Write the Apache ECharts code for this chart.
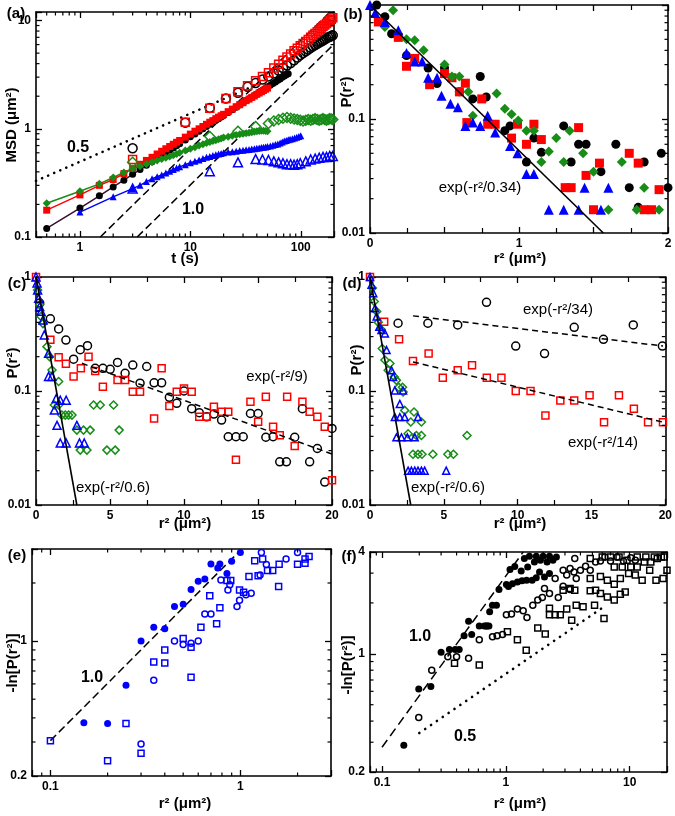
<!DOCTYPE html>
<html><head><meta charset="utf-8">
<script src="https://cdn.jsdelivr.net/npm/echarts@6/dist/echarts.min.js"></script>
<style>html,body{margin:0;padding:0;background:#fff}#c{width:675px;height:816px}</style>
</head><body><div id="c"></div>
<script>
// ================= DATA =================
// ---- Panel (a): MSD (um^2) vs t (s) ----
const aBlackLineT = [0.5,1,1.5,2,2.5,3,3.5,4,4.5,5,5.5,6,6.5,7,7.5,8,9,10,11,12,13,14,15,16,17,18,19,20,22,24,26,28,30,32,34,36,38,40,42,44,46,48,50,53,56,59,62,65,68,71,74,77];
const aBlackLineM = [0.12,0.185,0.24,0.29,0.335,0.38,0.42,0.46,0.497,0.533,0.568,0.601,0.634,0.666,0.697,0.727,0.786,0.842,0.897,0.95,1.0,1.05,1.1,1.15,1.196,1.24,1.287,1.33,1.417,1.5,1.58,1.66,1.74,1.82,1.89,1.96,2.03,2.1,2.17,2.24,2.31,2.37,2.44,2.53,2.62,2.71,2.81,2.89,2.99,3.07,3.16,3.22];
const aRedLineT = [0.5,1,1.5,2,2.5,3,3.5,4,4.5,5,5.5,6,6.5,7,7.5,8,9,10,11,12,13,14,15,16,17,18,19,20,22,24,26,28,30,32,34,36,38,40,42,44,46,48,50];
const aRedLineM = [0.177,0.245,0.3,0.34,0.385,0.43,0.47,0.51,0.545,0.585,0.62,0.654,0.686,0.719,0.75,0.78,0.837,0.893,0.95,1.0,1.05,1.1,1.15,1.19,1.24,1.28,1.32,1.36,1.44,1.52,1.6,1.67,1.74,1.82,1.88,1.95,2.01,2.08,2.14,2.2,2.26,2.32,2.38];
const aGreenLineT = [0.5,1,1.5,2,2.5,3,3.5,4,4.5,5,5.5,6,6.5,7,7.5,8,9,10,11,12,13,14,15,16,17,18,19,20,22,24,26,28,30,32,34,36,38,40,42,44,46,48,50];
const aGreenLineM = [0.205,0.265,0.31,0.355,0.395,0.43,0.45,0.47,0.49,0.51,0.525,0.54,0.555,0.57,0.585,0.6,0.63,0.655,0.675,0.7,0.72,0.74,0.755,0.77,0.785,0.8,0.815,0.83,0.845,0.86,0.875,0.89,0.9,0.91,0.92,0.93,0.94,0.95,0.955,0.96,0.96,0.955,0.95];
const aBlueLineT = [1,2,3,3.5,4,4.5,5,5.5,6,6.5,7,7.5,8,9,10,11,12,13,14,15,16,17,18,19,20,22,24,26,28,30,32,34,36,38,40,42,44,46,48,50,53,56,59,62,65,68,71,74,77,80,84,88,92,96,100];
const aBlueLineM = [0.17,0.235,0.28,0.3,0.325,0.345,0.36,0.375,0.39,0.405,0.42,0.435,0.445,0.465,0.485,0.5,0.515,0.53,0.545,0.555,0.565,0.575,0.585,0.59,0.6,0.61,0.615,0.62,0.63,0.635,0.64,0.645,0.65,0.655,0.66,0.665,0.67,0.675,0.68,0.685,0.695,0.705,0.715,0.725,0.74,0.755,0.77,0.78,0.79,0.8,0.81,0.82,0.835,0.85,0.86];
const aOpenT = [3,9,15,21,27,33,39,45,51,57,63,69,75,81,87,93,99,105,111,117,123,129,135,141,147,153,159,165,171,177,183,189,195];
const aBlackOpenM = [0.66,1.14,1.56,1.9,2.15,2.45,2.65,2.85,3.05,3.25,3.45,3.65,3.85,4.05,4.3,4.55,4.8,5.0,5.2,5.4,5.6,5.8,5.95,6.1,6.25,6.4,6.55,6.7,6.85,7.0,7.1,7.2,7.3];
const aRedOpenM = [0.52,1.15,1.55,1.9,2.2,2.5,2.78,3.05,3.3,3.65,3.95,4.3,4.6,4.9,5.25,5.55,5.85,6.15,6.4,6.7,7.0,7.3,7.6,7.9,8.2,8.5,8.8,9.1,9.4,9.7,10.0,10.3,10.6];
const aGreenOpenT = [3,15,27,39,51,57,63,69,75,81,87,93,99,105,111,117,123,129,135,141,147,153,159,165,171,177,183,189,195];
const aGreenOpenM = [0.49,0.85,0.95,1.05,1.12,1.18,1.22,1.25,1.27,1.25,1.23,1.22,1.2,1.18,1.2,1.22,1.2,1.22,1.24,1.22,1.2,1.22,1.24,1.22,1.2,1.22,1.24,1.23,1.22];
const aBlueOpenT = [3,15,27,39,45,51,57,63,69,75,81,87,93,99,111,123,135,147,159,171,183,195];
const aBlueOpenM = [0.28,0.405,0.49,0.525,0.52,0.515,0.5,0.49,0.48,0.47,0.47,0.465,0.47,0.48,0.5,0.52,0.53,0.54,0.55,0.55,0.56,0.56];
const aSlopeHalfT = [0.4,45];   const aSlopeHalfM = [0.33,2.7];
const aSlopeOneAT = [1.53,184]; const aSlopeOneAM = [0.1,12];
const aSlopeOneBT = [3.3,200];  const aSlopeOneBM = [0.1,6.06];
const aXTicks = [1,10,100];
const aYTicks = [0.1,1,10];

// ---- Panel (b): P(r^2) vs r^2, short lag ----
const bBlackX = [0.045,0.10,0.145,0.245,0.39,0.45,0.50,0.60,0.69,0.74,0.78,0.905,0.94,1.05,1.10,1.15,1.30,1.35,1.40,1.45,1.55,1.65,1.74,1.80,1.84,1.955,2.0];
const bBlackY = [1.0,0.79,0.56,0.36,0.28,0.205,0.28,0.173,0.15,0.236,0.156,0.079,0.087,0.042,0.068,0.051,0.087,0.042,0.06,0.06,0.0345,0.06,0.025,0.0168,0.042,0.05,0.025];
const bRedX = [0.056,0.19,0.245,0.30,0.40,0.50,0.55,0.60,0.64,0.65,0.75,0.79,0.84,0.95,0.99,1.05,1.10,1.15,1.31,1.35,1.40,1.45,1.50,1.54,1.74,1.80,1.84,1.89,1.94];
const bRedY = [0.71,0.52,0.29,0.34,0.2,0.25,0.23,0.173,0.206,0.093,0.15,0.09,0.09,0.068,0.09,0.06,0.09,0.066,0.025,0.025,0.084,0.032,0.016,0.041,0.05,0.041,0.016,0.016,0.024];
const bGreenX = [0.10,0.155,0.245,0.30,0.36,0.50,0.55,0.60,0.66,0.69,0.85,0.905,0.95,0.995,1.05,1.10,1.15,1.20,1.25,1.30,1.34,1.43,1.50,1.60,1.69,1.79,1.84,1.94];
const bGreenY = [0.64,0.90,0.50,0.49,0.40,0.30,0.236,0.236,0.173,0.107,0.167,0.123,0.11,0.097,0.079,0.079,0.042,0.052,0.068,0.042,0.079,0.05,0.0345,0.016,0.042,0.016,0.025,0.016];
const bBlueX = [0.0,0.035,0.10,0.19,0.245,0.30,0.35,0.39,0.45,0.48,0.54,0.59,0.64,0.69,0.74,0.79,0.84,0.94,0.99,1.05,1.10,1.20,1.30,1.40,1.44,1.55,1.60];
const bBlueY = [1.0,0.85,0.71,0.6,0.38,0.32,0.32,0.23,0.23,0.16,0.136,0.127,0.087,0.093,0.087,0.107,0.076,0.058,0.05,0.033,0.033,0.016,0.016,0.016,0.025,0.016,0.025];
const bFitX = [0,1.566]; const bFitY = [1,0.01];
const bXTicks = [0,1,2];
const bYTicks = [0.01,0.1];

// ---- Panel (c) ----
const cBlackX = [0.25,0.97,1.53,2.02,2.54,2.99,3.48,4.0,4.52,5.01,5.51,6.02,6.54,7.03,7.48,7.98,8.49,9.01,9.51,10.0,10.52,11.03,11.53,12.02,12.54,12.99,13.51,14.0,14.49,15.01,15.53,16.02,16.47,16.92,17.48,18.0,18.49,19.01,19.51,20.0];
const cBlackY = [0.59,0.43,0.35,0.28,0.19,0.23,0.25,0.158,0.158,0.155,0.178,0.143,0.169,0.117,0.164,0.118,0.118,0.088,0.078,0.1,0.07,0.0645,0.0594,0.0628,0.0556,0.0397,0.0397,0.0397,0.0635,0.0635,0.0393,0.0397,0.0239,0.0239,0.0393,0.07,0.0239,0.0313,0.0159,0.047];
const cRedX = [0,0.97,1.53,2.02,2.54,3.03,3.55,4.0,4.52,5.51,6.02,6.54,7.03,7.98,8.49,9.01,9.51,10.0,10.52,11.03,11.53,12.02,12.54,12.99,13.51,14.49,15.01,15.53,16.02,16.47,16.97,17.48,18.0,18.49,19.01,19.51,20.0];
const cRedY = [1.0,0.281,0.198,0.173,0.134,0.158,0.2,0.15,0.109,0.125,0.125,0.0987,0.0987,0.0575,0.158,0.0738,0.0987,0.105,0.0987,0.0594,0.0594,0.0728,0.0658,0.0658,0.025,0.0805,0.0537,0.0892,0.0485,0.041,0.0892,0.033,0.0805,0.0658,0.0594,0.0485,0.0165];
const cGreenX = [0.11,0.25,0.34,0.47,0.74,0.92,1.08,1.53,1.24,1.53,1.75,1.98,2.2,2.43,2.76,3.21,3.66,2.99,3.44,3.89,4.34,5.24,5.62,4.79,5.35];
const cGreenY = [0.77,0.57,0.45,0.39,0.245,0.2,0.153,0.121,0.0753,0.0753,0.0615,0.0615,0.0615,0.0615,0.0454,0.0454,0.0454,0.0303,0.0303,0.0753,0.0753,0.0753,0.0454,0.0303,0.0303];
const cBlueX = [0,0.07,0.11,0.18,0.25,0.34,0.47,0.56,0.85,0.85,1.08,1.37,1.24,1.64,2.04,1.42,2.76,1.64,2.04,2.94,3.26];
const cBlueY = [1.0,0.885,0.77,0.65,0.55,0.5,0.42,0.31,0.214,0.134,0.134,0.086,0.068,0.083,0.083,0.05,0.05,0.035,0.035,0.035,0.035];
const cFastX = [0,2.76]; const cFastY = [1,0.01];
const cSlowX = [3.1,20];  const cSlowY = [0.175,0.028];
const cdXTicks = [0,5,10,15,20];
const cdYTicks = [0.01,0.1,1];

// ---- Panel (d) ----
const dBlackX = [1.9,3.92,5.94,7.89,9.87,11.82,13.83,15.81,17.83,19.8];
const dBlackY = [0.393,0.393,0.38,0.6,0.248,0.213,0.362,0.284,0.38,0.248];
const dRedX = [0,0.96,1.97,2.91,3.97,4.93,5.94,6.91,7.91,8.9,9.87,10.87,11.88,12.89,13.83,14.87,15.85,16.86,17.87,18.83,19.84];
const dRedY = [1.0,0.406,0.284,0.183,0.213,0.131,0.152,0.168,0.131,0.131,0.1,0.1,0.061,0.0827,0.0827,0.0916,0.0533,0.0916,0.0698,0.0533,0.0533];
const dGreenX = [0.16,0.29,0.45,0.56,0.74,0.83,1.01,1.35,1.23,1.64,1.79,1.95,2.2,2.24,2.35,2.98,3.48,2.76,2.58,3.14,3.48,2.91,3.25,3.52,4.26,5.27,5.65,6.57];
const dGreenY = [0.8,0.61,0.498,0.4,0.348,0.236,0.187,0.174,0.152,0.133,0.124,0.108,0.108,0.098,0.0676,0.0654,0.0534,0.0534,0.0421,0.0407,0.0407,0.0279,0.0279,0.0279,0.0279,0.0279,0.0279,0.0407];
const dBlueX = [0,0.11,0.22,0.34,0.45,0.63,0.78,1.01,1.12,1.46,1.57,1.68,2.02,2.24,1.68,2.02,2.35,3.25,1.79,2.13,2.53,3.03,2.58,2.8,3.03,3.25,3.48,3.7,5.16];
const dBlueY = [1.0,0.856,0.722,0.533,0.45,0.367,0.343,0.32,0.229,0.152,0.133,0.101,0.077,0.101,0.059,0.059,0.059,0.059,0.0392,0.0392,0.0392,0.0392,0.02,0.02,0.02,0.02,0.02,0.02,0.02];
const dFastX = [0,2.76];     const dFastY = [1,0.01];
const dSlow34X = [2.91,19.84]; const dSlow34Y = [0.456,0.248];
const dSlow14X = [2.91,19.84]; const dSlow14Y = [0.18,0.0533];

// ---- Panel (e): -ln P vs r^2 (blue) ----
const eFilledX = [0.15,0.2,0.25,0.3,0.35,0.4,0.45,0.5,0.55,0.6,0.65,0.7,0.76,0.78,0.85,0.9,1.0];
const eFilledY = [0.377,0.374,0.59,1.0,1.18,1.16,1.51,1.55,1.85,2.04,2.1,2.51,2.39,2.51,2.24,2.59,2.88];
const eOpenCX = [0.3,0.35,0.45,0.5,0.55,0.6,0.65,0.7,0.79,0.88,0.86,0.99,0.96,1.07,1.14,1.27,1.29,1.37,1.74,2.0];
const eOpenCY = [0.293,0.627,1.0,0.96,0.976,1.0,1.38,1.38,2.07,1.96,1.84,1.63,1.51,1.74,1.77,2.2,2.88,2.49,2.66,2.88];
const eOpenSX = [0.1,0.2,0.25,0.3,0.35,0.4,0.4,0.5,0.55,0.55,0.62,0.69,0.75,0.78,0.85,0.89,0.99,1.04,1.11,1.19,1.24,1.31,1.39,1.48,1.59,1.6,2.0,2.19,2.19,2.3];
const eOpenSY = [0.305,0.24,0.374,0.262,0.78,0.77,0.9,1.03,0.93,0.65,1.18,1.72,1.23,1.49,2.06,2.06,1.84,1.79,2.16,2.61,2.18,2.66,2.32,2.32,1.92,2.5,2.5,2.53,2.66,2.74];
const eSlopeX = [0.1,1.0]; const eSlopeY = [0.305,2.95];
const eXTicks = [0.1,1];
const eYTicks = [0.2,1];

// ---- Panel (f): -ln P vs r^2 (black) ----
const fFilledX = [0.15,0.198,0.248,0.30,0.35,0.39,0.42,0.46,0.50,0.53,0.61,0.67,0.73,0.74,0.78,0.84,0.88,1.01,1.05,1.13,1.24,1.35,1.47,1.63,1.76,1.08,1.18,1.33,1.5,1.7,1.9,2.15,2.4,2.56,2.25,2.0,1.76,1.55,1.41,1.87,2.05,2.25];
const fFilledY = [0.288,0.62,0.64,1.02,1.06,1.06,1.06,1.28,1.56,1.3,1.46,1.46,1.46,1.77,1.94,1.94,2.4,2.57,2.5,2.6,2.66,2.7,2.72,2.72,2.82,3.15,3.28,3.09,3.26,3.49,3.57,3.49,3.57,3.74,3.77,3.77,3.77,3.77,3.66,3.05,2.85,2.98];
const fOpenCX = [0.198,0.252,0.34,0.4,0.5,0.61,0.7,0.78,0.85,0.94,1.01,1.11,1.24,1.38,1.48,1.65,1.81,1.97,2.05,2.25,2.5,2.65,2.9,3.3,3.1,3.55,4.0,4.4,4.8,5.3,5.8,6.3,7.0,7.9,8.9,10.2,11.1,3.6,3.3,2.9,3.7];
const fOpenCY = [0.42,0.8,0.96,0.96,0.94,1.21,1.46,1.26,1.28,1.3,1.7,1.72,1.84,1.8,1.64,1.94,2.08,2.15,2.43,2.27,2.79,2.15,2.51,2.4,2.92,3.05,3.12,3.29,3.12,3.49,3.54,3.74,3.54,3.74,3.54,3.7,3.57,3.66,3.19,3.12,2.79];
const fOpenSX = [0.385,0.61,1.03,1.24,1.46,1.81,2.08,2.25,2.25,2.5,2.75,3.1,3.4,3.7,4.2,5.2,6.2,2.9,3.3,3.6,4.8,5.3,5.8,6.6,7.5,8.4,9.2,4.8,5.8,6.6,7.5,8.4,9.8,11.1,12.6,14.5,16.3,18.6,20,10.2,11.5,13.1,14.8,16.7,19,7.5,8.7,4.8,6.0,7.0,8.2,9.5,11.5,13.5,15.8,18];
const fOpenSY = [0.88,0.86,1.35,1.21,1.05,1.42,1.31,1.86,1.7,1.7,1.7,1.84,1.58,1.94,1.9,1.94,1.62,2.38,2.43,2.38,2.36,2.38,2.27,2.17,2.08,2.25,2.32,2.79,2.87,2.72,2.58,2.79,2.98,2.92,2.72,3.12,2.72,2.79,3.12,3.26,3.26,3.49,3.49,3.66,3.74,3.26,3.26,3.66,3.74,3.74,3.74,3.57,3.74,3.74,3.74,3.74];
const fDashX = [0.1,1.38]; const fDashY = [0.28,4];
const fDotX = [0.2,6.2];   const fDotY = [0.34,1.9];
const fXTicks = [0.1,1,10];
const fYTicks = [0.2,1,4];

const minorMultiples = [2,3,4,5,6,7,8,9];

// ================= BUILD =================
const TXT = '"Liberation Sans", Arial, Helvetica, sans-serif';
const COL = {black:'#000000', red:'#ff0000', green:'#178c17', blue:'#0000ff', dark:'#3a0d2e'};
const zip = (xs, ys) => xs.map((x, i) => [x, ys[i]]);

const grids = [
  {left:36, top:12, width:298, height:225},
  {left:370, top:5, width:298, height:228},
  {left:36, top:277, width:296, height:228},
  {left:370, top:277, width:297, height:228},
  {left:32, top:549, width:299, height:227},
  {left:370, top:552, width:297, height:220}
];
const specs = [
  {x:{type:'log',min:0.4,max:200,labels:aXTicks}, y:{type:'log',min:0.1,max:12,labels:aYTicks}},
  {x:{type:'value',min:0,max:2,interval:0.5,minor:2,labels:bXTicks}, y:{type:'log',min:0.01,max:1,labels:bYTicks}},
  {x:{type:'value',min:0,max:20,interval:5,minor:2,labels:cdXTicks}, y:{type:'log',min:0.01,max:1,labels:cdYTicks}},
  {x:{type:'value',min:0,max:20,interval:5,minor:2,labels:cdXTicks}, y:{type:'log',min:0.01,max:1,labels:cdYTicks}},
  {x:{type:'log',min:0.08,max:3,labels:eXTicks}, y:{type:'log',min:0.2,max:3,labels:eYTicks}},
  {x:{type:'log',min:0.08,max:20,labels:fXTicks}, y:{type:'log',min:0.2,max:4,labels:fYTicks}}
];

function labelFor(v, spec) {
  for (const l of spec.labels) {
    if (spec.type === 'log') { if (Math.abs(Math.log10(v) - Math.log10(l)) < 1e-6) return String(l); }
    else if (Math.abs(v - l) < 1e-9) return String(l);
  }
  return '';
}
function axis(gi, spec, pos, showLabel) {
  const a = {
    gridIndex: gi, type: spec.type, min: spec.min, max: spec.max, position: pos,
    axisLine: {show:true, onZero:false, lineStyle:{color:'#000', width:1.6}},
    axisTick: {show:true, inside:true, length:6, lineStyle:{color:'#000', width:1.3}},
    splitLine: {show:false}, minorSplitLine:{show:false},
    axisLabel: {show: showLabel, margin: 5, color:'#000', fontFamily: TXT, fontSize: 12, fontWeight:'bold',
      formatter: v => labelFor(v, spec)},
    silent: true
  };
  if (spec.type === 'log') a.logBase = 10;
  if (spec.interval) a.interval = spec.interval;
  if (spec.minor) a.minorTick = {show:true, splitNumber: spec.minor, length:5, lineStyle:{color:'#000', width:1.2}};
  return a;
}
const xAxes = [], yAxes = [];
specs.forEach((s, gi) => {
  xAxes.push(axis(gi, s.x, 'bottom', true));
  xAxes.push(axis(gi, s.x, 'top', false));
  yAxes.push(axis(gi, s.y, 'left', true));
  yAxes.push(axis(gi, s.y, 'right', false));
});

function minorValues(min, max) {
  const out = [];
  for (let e = Math.floor(Math.log10(min)) - 1; e <= Math.ceil(Math.log10(max)); e++) {
    for (const m of minorMultiples) {
      const v = m * Math.pow(10, e);
      if (v > min * 1.0001 && v < max * 0.9999) out.push(v);
    }
  }
  return out;
}
function minorTicks(gi, dir) {
  const s = specs[gi];
  const sp = s[dir], other = dir === 'y' ? s.x : s.y;
  const ref = other.type === 'log' ? other.min : other.min;
  const vals = minorValues(sp.min, sp.max);
  return {
    type:'custom', xAxisIndex: 2*gi, yAxisIndex: 2*gi, silent:true, z:10, clip:false,
    data: vals.map(v => dir === 'y' ? [ref, v] : [v, ref]),
    renderItem: (params, api) => {
      const cs = params.coordSys;
      const p = api.coord([api.value(0), api.value(1)]);
      const L = 3.5, st = {stroke:'#000', lineWidth:1.2};
      if (dir === 'y') return {type:'group', children:[
        {type:'line', shape:{x1:cs.x, y1:p[1], x2:cs.x+L, y2:p[1]}, style:st},
        {type:'line', shape:{x1:cs.x+cs.width, y1:p[1], x2:cs.x+cs.width-L, y2:p[1]}, style:st}]};
      return {type:'group', children:[
        {type:'line', shape:{x1:p[0], y1:cs.y+cs.height, x2:p[0], y2:cs.y+cs.height-L}, style:st},
        {type:'line', shape:{x1:p[0], y1:cs.y, x2:p[0], y2:cs.y+L}, style:st}]};
    }
  };
}

function scat(gi, data, symbol, size, color, filled) {
  return {
    type:'scatter', xAxisIndex:2*gi, yAxisIndex:2*gi, data, symbol, symbolSize:size, clip:false, silent:true, z:3,
    itemStyle: filled ? {color, borderWidth:0, opacity:1} : {color:'rgba(255,255,255,0)', borderColor:color, borderWidth:1.5, opacity:1}
  };
}
function conn(gi, data, symbol, size, color, lineColor) {
  return {
    type:'line', xAxisIndex:2*gi, yAxisIndex:2*gi, data, symbol, symbolSize:size, showSymbol:true, showAllSymbol:true,
    clip:false, silent:true, z:3,
    lineStyle:{color: lineColor || color, width:1.5}, itemStyle:{color, borderWidth:0}
  };
}
function ref(gi, data, dash, width, cap) {
  return {
    type:'line', xAxisIndex:2*gi, yAxisIndex:2*gi, data, symbol:'none', clip:false, silent:true, z:2,
    lineStyle:{color:'#000', width: width || 1.5, type: dash, cap: cap || 'butt'}
  };
}

const series = [];
// (a)
series.push(ref(0, zip(aSlopeHalfT, aSlopeHalfM), [0.1, 6.5], 2.6, 'round'));
series.push(ref(0, zip(aSlopeOneAT, aSlopeOneAM), [8, 4], 1.5));
series.push(ref(0, zip(aSlopeOneBT, aSlopeOneBM), [8, 4], 1.5));
series.push(conn(0, zip(aBlackLineT, aBlackLineM), 'circle', 7, COL.black, COL.dark));
series.push(conn(0, zip(aRedLineT, aRedLineM), 'rect', 7, COL.red));
series.push(conn(0, zip(aGreenLineT, aGreenLineM), 'diamond', 8, COL.green));
series.push(conn(0, zip(aBlueLineT, aBlueLineM), 'triangle', 7, COL.blue));
series.push(scat(0, zip(aOpenT, aBlackOpenM), 'circle', 9, COL.black, false));
series.push(scat(0, zip(aOpenT, aRedOpenM), 'rect', 8, COL.red, false));
series.push(scat(0, zip(aGreenOpenT, aGreenOpenM), 'diamond', 10, COL.green, false));
series.push(scat(0, zip(aBlueOpenT, aBlueOpenM), 'triangle', 9, COL.blue, false));
// (b)
series.push(scat(1, zip(bBlackX, bBlackY), 'circle', 9, COL.black, true));
series.push(scat(1, zip(bRedX, bRedY), 'rect', 9, COL.red, true));
series.push(scat(1, zip(bGreenX, bGreenY), 'diamond', 10, COL.green, true));
series.push(scat(1, zip(bBlueX, bBlueY), 'triangle', 10, COL.blue, true));
series.push(Object.assign(ref(1, zip(bFitX, bFitY), 'solid', 1.6), {z:4}));
// (c)
series.push(scat(2, zip(cBlackX, cBlackY), 'circle', 8, COL.black, false));
series.push(scat(2, zip(cRedX, cRedY), 'rect', 7, COL.red, false));
series.push(scat(2, zip(cGreenX, cGreenY), 'diamond', 8, COL.green, false));
series.push(scat(2, zip(cBlueX, cBlueY), 'triangle', 8, COL.blue, false));
series.push(Object.assign(ref(2, zip(cFastX, cFastY), 'solid', 1.6), {z:4}));
series.push(Object.assign(ref(2, zip(cSlowX, cSlowY), [6, 4], 1.5), {z:4}));
// (d)
series.push(scat(3, zip(dBlackX, dBlackY), 'circle', 8, COL.black, false));
series.push(scat(3, zip(dRedX, dRedY), 'rect', 7, COL.red, false));
series.push(scat(3, zip(dGreenX, dGreenY), 'diamond', 8, COL.green, false));
series.push(scat(3, zip(dBlueX, dBlueY), 'triangle', 7, COL.blue, false));
series.push(Object.assign(ref(3, zip(dFastX, dFastY), 'solid', 1.6), {z:4}));
series.push(Object.assign(ref(3, zip(dSlow34X, dSlow34Y), [6, 4], 1.5), {z:4}));
series.push(Object.assign(ref(3, zip(dSlow14X, dSlow14Y), [6, 4], 1.5), {z:4}));
// (e)
series.push(ref(4, zip(eSlopeX, eSlopeY), [8, 4], 1.5));
series.push(scat(4, zip(eOpenSX, eOpenSY), 'rect', 6, COL.blue, false));
series.push(scat(4, zip(eOpenCX, eOpenCY), 'circle', 6, COL.blue, false));
series.push(scat(4, zip(eFilledX, eFilledY), 'circle', 7, COL.blue, true));
// (f)
series.push(ref(5, zip(fDashX, fDashY), [9, 5], 1.5));
series.push(ref(5, zip(fDotX, fDotY), [0.1, 7], 2.6, 'round'));
series.push(scat(5, zip(fOpenSX, fOpenSY), 'rect', 6, COL.black, false));
series.push(scat(5, zip(fOpenCX, fOpenCY), 'circle', 6, COL.black, false));
series.push(scat(5, zip(fFilledX, fFilledY), 'circle', 7, COL.black, true));
// minor ticks on log axes
specs.forEach((s, gi) => {
  if (s.x.type === 'log') series.push(minorTicks(gi, 'x'));
  if (s.y.type === 'log') series.push(minorTicks(gi, 'y'));
});

// ---------- texts ----------
const graphics = [];
function txt(x, y, s, size, weight, rot) {
  graphics.push({type:'text', x, y, rotation: rot || 0, silent:true, z:100,
    style:{text:s, fill:'#000', fontFamily:TXT, fontSize:size, fontWeight:weight || 'bold',
      align:'center', verticalAlign:'middle', textAlign:'center', textVerticalAlign:'middle'}});
}
const R = Math.PI / 2;
// panel tags
txt(16, 14, '(a)', 15); txt(353, 15, '(b)', 15); txt(17, 284, '(c)', 15);
txt(352, 284, '(d)', 15); txt(17, 556, '(e)', 15); txt(349, 557, '(f)', 15);
// axis titles
txt(185, 259, 't (s)', 15); txt(12, 125, 'MSD (μm²)', 15, 'bold', R);
txt(520, 259, 'r² (μm²)', 15); txt(347, 92, 'P(r²)', 15, 'bold', R);
txt(185, 524, 'r² (μm²)', 15); txt(13, 363, 'P(r²)', 15, 'bold', R);
txt(520, 524, 'r² (μm²)', 15); txt(357, 360, 'P(r²)', 15, 'bold', R);
txt(185, 804, 'r² (μm²)', 15); txt(13, 663, '-ln[P(r²)]', 15, 'bold', R);
txt(520, 804, 'r² (μm²)', 15); txt(348, 665, '-ln[P(r²)]', 15, 'bold', R);
// annotations
txt(78, 148, '0.5', 16); txt(193, 210, '1.0', 16);
txt(480, 188, 'exp(-r²/0.34)', 15, 'normal');
txt(277, 377, 'exp(-r²/9)', 15, 'normal'); txt(113, 488, 'exp(-r²/0.6)', 15, 'normal');
txt(558, 310, 'exp(-r²/34)', 15, 'normal'); txt(603, 443, 'exp(-r²/14)', 15, 'normal');
txt(448, 488, 'exp(-r²/0.6)', 15, 'normal');
txt(92, 678, '1.0', 16);
txt(420, 637, '1.0', 16); txt(465, 737, '0.5', 16);

const chart = echarts.init(document.getElementById('c'), null, {renderer:'canvas'});
chart.setOption({
  animation:false,
  backgroundColor:'#ffffff',
  grid: grids.map(g => Object.assign({show:false, containLabel:false}, g)),
  xAxis: xAxes, yAxis: yAxes, series, graphic: graphics
});
</script></body></html>
